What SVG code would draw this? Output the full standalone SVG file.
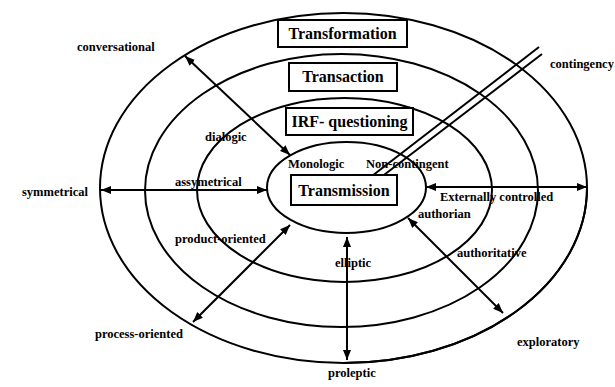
<svg xmlns="http://www.w3.org/2000/svg" width="615" height="387" viewBox="0 0 615 387">
<defs>
<marker id="ah" viewBox="0 0 10 8" refX="10" refY="4" markerWidth="10" markerHeight="8" markerUnits="userSpaceOnUse" orient="auto-start-reverse">
<path d="M0,0 L10,4 L0,8 z" fill="#000"/>
</marker>
<style>
.ring{fill:none;stroke:#000;stroke-width:2}
.box{fill:#fff;stroke:#000;stroke-width:2}
text{font-family:'Liberation Serif','Times New Roman','DejaVu Serif',serif;font-weight:bold;fill:#000}
.lab{font-size:12.5px}
.title{font-size:16px;text-anchor:middle}
.arr{stroke:#000;stroke-width:2;fill:none;marker-start:url(#ah);marker-end:url(#ah)}
.cont{stroke:#000;stroke-width:2;fill:none}
</style>
</defs>
<rect width="615" height="387" fill="#fff"/>
<g id="rings">
<ellipse id="ring-outer" class="ring" cx="343.5" cy="188" rx="243.5" ry="175"/>
<path class="ring" d="M587,188 A243.5,175 0 0 1 343.5,363" stroke-width="4.5"/>
<ellipse id="ring-2" class="ring" cx="341.5" cy="190.5" rx="196.5" ry="136.5"/>
<ellipse id="ring-3" class="ring" cx="344.5" cy="190" rx="147.5" ry="92"/>
<ellipse id="ring-inner" class="ring" cx="346.5" cy="187.5" rx="79.5" ry="45.5"/>
</g>
<g id="connectors">
<line class="cont" x1="372" y1="176" x2="539" y2="47"/>
<line class="cont" x1="380" y1="178" x2="542" y2="54"/>
<line class="arr" x1="185" y1="56" x2="290" y2="155"/>
<line class="arr" x1="101" y1="190" x2="267" y2="190"/>
<line class="arr" x1="426" y1="187" x2="587" y2="187"/>
<line class="arr" x1="290" y1="225" x2="193" y2="322"/>
<line class="arr" x1="347" y1="237" x2="347" y2="360"/>
<line class="arr" x1="408" y1="218" x2="503" y2="313"/>
</g>
<g id="transformation">
<rect class="box" x="278" y="20" width="129" height="27"/>
<text class="title" x="342.5" y="39">Transformation</text>
</g>
<g id="transaction">
<rect class="box" x="289" y="63" width="108" height="28"/>
<text class="title" x="343" y="82">Transaction</text>
</g>
<g id="irf">
<rect class="box" x="286" y="108" width="127" height="27"/>
<text class="title" x="349.5" y="127">IRF- questioning</text>
</g>
<g id="transmission">
<rect class="box" x="291" y="175" width="106" height="30"/>
<text class="title" x="344" y="196">Transmission</text>
</g>
<g id="labels">
<text class="lab" x="77" y="51">conversational</text>
<text class="lab" x="22" y="196">symmetrical</text>
<text class="lab" x="205" y="141">dialogic</text>
<text class="lab" x="175" y="186">assymetrical</text>
<text class="lab" x="288" y="168">Monologic</text>
<text class="lab" x="366" y="168">Non-contingent</text>
<text class="lab" x="440" y="201">Externally controlled</text>
<text class="lab" x="418" y="218">authorian</text>
<text class="lab" x="457" y="257">authoritative</text>
<text class="lab" x="175" y="243">product-oriented</text>
<text class="lab" x="335" y="267">elliptic</text>
<text class="lab" x="95" y="338">process-oriented</text>
<text class="lab" x="517" y="346">exploratory</text>
<text class="lab" x="328" y="377">proleptic</text>
<text class="lab" x="550" y="68">contingency</text>
</g>
</svg>
